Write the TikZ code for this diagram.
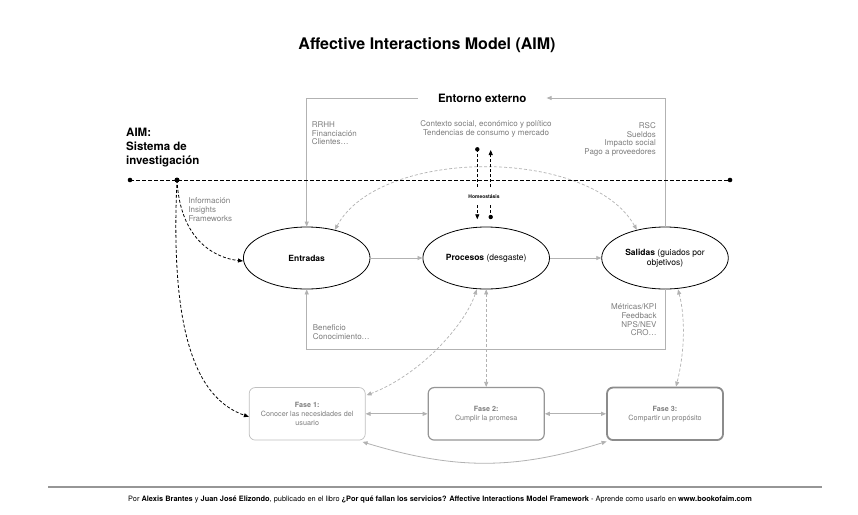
\documentclass[tikz,border=0pt]{standalone}
\usepackage{fontspec}
\setmainfont{TeX Gyre Heros}
\usetikzlibrary{arrows.meta,shapes.geometric}
\definecolor{lg}{RGB}{178,178,178}
\definecolor{tg}{RGB}{125,125,125}
\definecolor{fonec}{RGB}{192,192,192}
\definecolor{ftwoc}{RGB}{150,150,150}
\definecolor{fthreec}{RGB}{140,140,140}
\definecolor{ftc}{RGB}{150,150,150}
\begin{document}
\begin{tikzpicture}[x=1pt,y=-1pt,
  gl/.style={draw=lg,line width=0.8pt},
  ga/.style={gl,-{Triangle[length=5pt,width=4pt]}},
  gatwo/.style={gl,{Triangle[length=5pt,width=4pt]}-{Triangle[length=5pt,width=4pt]}},
  gda/.style={draw=lg,line width=0.7pt,dash pattern=on 3pt off 2pt,{Triangle[length=5pt,width=4pt]}-{Triangle[length=5pt,width=4pt]}},
  bdash/.style={draw=black,line width=0.8pt,dash pattern=on 3pt off 2pt},
  bda/.style={bdash,-{Triangle[length=5pt,width=4pt]}},
  bmain/.style={draw=black,line width=1pt,dash pattern=on 3.5pt off 2.5pt},
  ell/.style={ellipse,draw=black,fill=white,line width=0.8pt,minimum width=126.6pt,minimum height=62pt,inner sep=0pt,align=center,font=\fontsize{8.5}{10.4}\selectfont},
  gt/.style={text=tg,font=\fontsize{8}{8.7}\selectfont,inner sep=0pt},
  fase/.style={rectangle,rounded corners=6pt,minimum width=116pt,minimum height=52.5pt,align=center,text=tg,fill=white,font=\fontsize{7.2}{9}\selectfont}
]
\fill[white] (0,0) rectangle (858,514);
\useasboundingbox (0,0) rectangle (858,514);

% title
\node[font=\bfseries\fontsize{16}{19}\selectfont] (title) at (427,45) {Affective Interactions Model (AIM)};

% ellipses
\node[ell] (ent) at (306.7,258) {\textbf{Entradas}};
\node[ell] (pro) at (486.2,258) {\textbf{Procesos} (desgaste)};
\node[ell] (sal) at (665,258) {\textbf{Salidas} (guiados por\\objetivos)};

% external environment
\node[font=\bfseries\fontsize{11.5}{14}\selectfont,inner xsep=20pt,inner ysep=0pt] (ext) at (482.2,98) {Entorno externo};
\draw[ga] (ext.west) -| (ent.north);
\draw[ga] (sal.north) |- (ext.east);
\draw[ga] (sal.south) -- ++(0,60) -| (ent.south);
\draw[ga] (ent.east) -- (pro.west);
\draw[ga] (pro.east) -- (sal.west);

% gray labels
\node[gt,align=left,anchor=north west] (rrhh) at (311.7,121.3) {RRHH\\Financiación\\Clientes…};
\node[gt,align=center,anchor=north] (ctx) at (486,120.3) {Contexto social, económico y político\\Tendencias de consumo y mercado};
\node[gt,align=right,anchor=north east] (rsc) at (656,122.3) {RSC\\Sueldos\\Impacto social\\Pago a proveedores};
\node[gt,align=left,anchor=north west] (info) at (188.3,197.7) {Información\\Insights\\Frameworks};
\node[gt,align=right,anchor=north east] (metr) at (656.7,303.7) {Métricas/KPI\\Feedback\\NPS/NEV\\CRO…};
\node[gt,align=left,anchor=north west] (benef) at (312.7,324.7) {Beneficio\\Conocimiento…};

% AIM label
\node[font=\bfseries\fontsize{11.5}{14}\selectfont,align=left,anchor=north west,inner sep=0pt] (aim) at (126,127.6) {AIM:\\Sistema de\\investigación};

% fases
\node[fase,draw=fonec,line width=0.7pt] (f1) at (307.2,413.8) {\textbf{Fase 1:}\\Conocer las necesidades del\\usuario};
\node[fase,draw=ftwoc,line width=1.2pt] (f2) at (486.2,413.8) {\textbf{Fase 2:}\\Cumplir la promesa};
\node[fase,draw=fthreec,line width=1.8pt] (f3) at (665,413.8) {\textbf{Fase 3:}\\Compartir un propósito};

\draw[gatwo] (f1.east) -- (f2.west);
\draw[gatwo] (f2.east) -- (f3.west);
\draw[gatwo] ([xshift=-3pt,yshift=-1.5pt]f1.south east) .. controls (455,470) and (515,470) .. ([xshift=0.5pt,yshift=-0.5pt]f3.south west);

% dashed gray connectors
\draw[gda] (ent.45) .. controls (380,147) and (590,147) .. (sal.135);
\draw[gda] ([xshift=-9.5pt]pro.south) .. controls (465,325) and (420,375) .. ([xshift=1pt,yshift=-8pt]f1.north east);
\draw[gda] (pro.south) -- (f2.north);
\draw[gda] ([xshift=13pt]sal.south) .. controls (686,320) and (684,355) .. ([xshift=11pt]f3.north);

% main dashed line
\coordinate (hl) at (130,180);
\coordinate (hr) at (730,180);
\coordinate (hd) at (177,180);
\draw[bmain] (hl) -- (hr);
\fill (hl) circle (2.3pt);
\fill (hr) circle (2.3pt);
\fill (hd) circle (2.5pt);
\draw[bda] (hd) .. controls (180,240) and (215,258) .. ([yshift=-3pt]ent.west);
\draw[bda] (hd) .. controls (170,330) and (195,398) .. ([yshift=-3pt]f1.west);

% homeostasis
\node[font=\bfseries\fontsize{5}{6}\selectfont,inner sep=0pt] (homeo) at (484,197) {Homeostásis};
\coordinate (h1t) at (477.3,149.3);
\coordinate (h1a) at (477.3,187);
\coordinate (h1c) at (477.3,205);
\coordinate (h1b) at (477.3,219.3);
\coordinate (h2t) at (490.7,150);
\coordinate (h2a) at (490.7,187);
\coordinate (h2c) at (490.7,205);
\coordinate (h2b) at (490.7,217);
\draw[bdash] (h1t) -- (h1a);
\draw[bda] (h1c) -- (h1b);
\fill (h1t) circle (2.2pt);
\draw[bda] (h2a) -- (h2t);
\draw[bdash] (h2c) -- (h2b);
\fill (h2b) circle (2.2pt);

% footer
\draw[draw=ftc,line width=1.8pt] (48,487) -- (822,487);
\node[font=\fontsize{7.4}{8.5}\selectfont,inner sep=0pt] (foot) at (440,500) {Por \textbf{Alexis Brantes} y \textbf{Juan José Elizondo}, publicado en el libro \textbf{¿Por qué fallan los servicios? Affective Interactions Model Framework} - Aprende como usarlo en \textbf{www.bookofaim.com}};
\end{tikzpicture}
\end{document}
